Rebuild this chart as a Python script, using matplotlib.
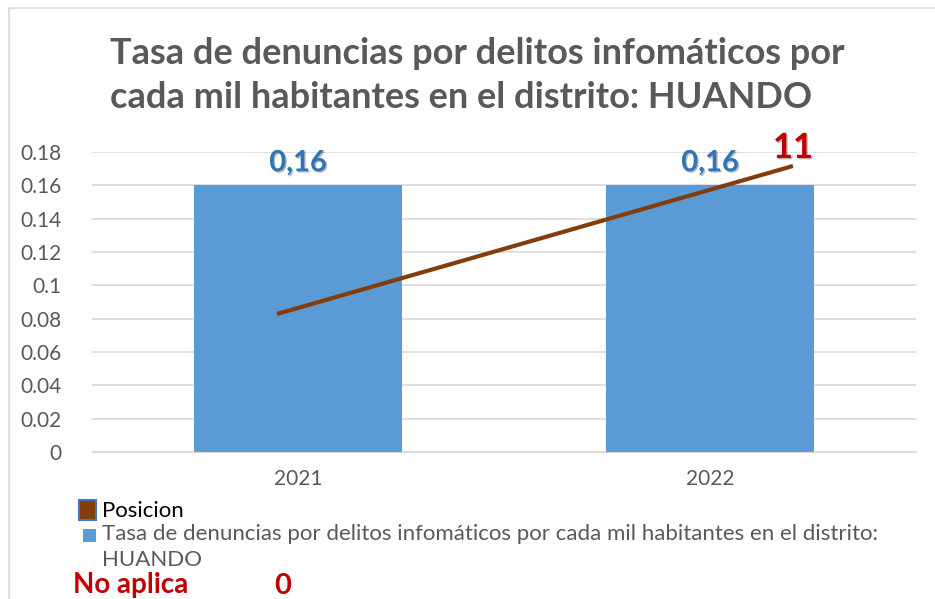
import matplotlib.pyplot as plt
from matplotlib.patches import Rectangle
import matplotlib.patheffects as pe

plt.rcParams['font.family'] = ['Lato', 'DejaVu Sans']

# ---- data ----
years = ['2021', '2022']
tasa = [0.16, 0.16]
tasa_labels = ['0,16', '0,16']
posicion = [0, 11]
yticks = [0, 0.02, 0.04, 0.06, 0.08, 0.1, 0.12, 0.14, 0.16, 0.18]

titulo = 'Tasa de denuncias por delitos infomáticos por\ncada mil habitantes en el distrito: HUANDO'
serie_tasa = 'Tasa de denuncias por delitos infomáticos por cada mil habitantes en el distrito:\nHUANDO'

GRAY = '#595959'
BLUE = '#5B9BD5'
BROWN = '#843C0C'
RED = '#C00000'

W, H = 935, 599
fig = plt.figure(figsize=(W / 100, H / 100), dpi=100)

# chart frame
fig.patches.append(Rectangle((9 / W, -0.1), 1.2, 1 - 8 / H + 0.1, transform=fig.transFigure,
                             fill=False, edgecolor='#D9D9D9', lw=1.2))

rect = [92 / W, 1 - 452 / H, (916 - 92) / W, 300 / H]
ax = fig.add_axes(rect)
x = list(range(len(years)))
ax.bar(x, tasa, width=0.505, color=BLUE, zorder=2)
ax.set_xlim(-0.5, 1.5)
ax.set_ylim(0, 0.18)
ax.set_yticks(yticks)
ax.set_yticklabels([f'{v:g}' for v in yticks])
ax.set_xticks(x)
ax.set_xticklabels(years)
ax.grid(axis='y', color='#D9D9D9', lw=1.2, zorder=0)
for s in ax.spines.values():
    s.set_visible(False)
ax.spines['bottom'].set_visible(True)
ax.spines['bottom'].set_color('#D9D9D9')
ax.tick_params(length=0, labelcolor=GRAY, labelsize=15)
ax.tick_params(axis='y', pad=22)
ax.tick_params(axis='x', pad=12)

shadow = [pe.withSimplePatchShadow(offset=(1, -1), alpha=0.3)]
for xi, v, lab in zip(x, tasa, tasa_labels):
    ax.text(xi, v + 0.0055, lab, ha='center', va='bottom', fontsize=21, fontweight='bold',
            color='#2E75B6', path_effects=shadow)

# Posicion on its own hidden axes
ax2 = fig.add_axes(rect, frameon=False)
ax2.plot(x, posicion, color=BROWN, lw=3, solid_capstyle='butt')
ax2.set_xlim(-0.3585, 1.2385)
ax2.set_ylim(-10.26, 12.04)
ax2.set_xticks([])
ax2.set_yticks([])
ax2.text(x[1], posicion[1] + 0.15, str(posicion[1]), ha='center', va='bottom', fontsize=25,
         fontweight='bold', color=RED, path_effects=shadow)

fig.text(110 / W, 1 - 37 / H, titulo, ha='left', va='top', fontsize=26, fontweight='bold',
         color=GRAY, linespacing=1.4)

# legend
fig.patches.append(Rectangle((79 / W, 1 - 520 / H), 17 / W, 20 / H, transform=fig.transFigure,
                             facecolor=BROWN, edgecolor='#4472C4', lw=1.5))
fig.text(102 / W, 1 - 511 / H, 'Posicion', ha='left', va='center', fontsize=16, color='black')
fig.patches.append(Rectangle((83 / W, 1 - 542 / H), 13 / W, 13 / H, transform=fig.transFigure,
                             facecolor=BLUE, edgecolor='none'))
fig.text(102 / W, 1 - 524 / H, serie_tasa, ha='left', va='top', fontsize=16, color=GRAY,
         linespacing=1.35)

fig.text(73 / W, 1 - 593 / H, 'No aplica', ha='left', va='baseline', fontsize=20, fontweight='bold',
         color=RED)
fig.text(283 / W, 1 - 586 / H, str(posicion[0]), ha='center', va='center', fontsize=21,
         fontweight='bold', color=RED)

fig.savefig('out.png', dpi=100)
